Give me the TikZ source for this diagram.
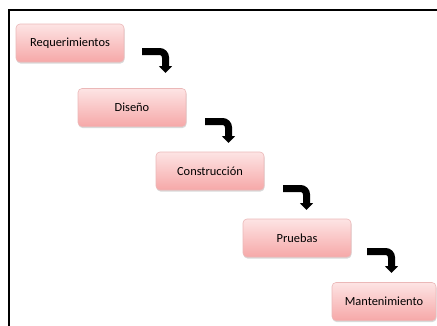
\documentclass[tikz,border=0pt]{standalone}
\usepackage{fontspec}
\setmainfont{Carlito}
\usetikzlibrary{arrows.meta,shadows}
\definecolor{boxtop}{HTML}{FDE4E4}
\definecolor{boxbot}{HTML}{F6A8A8}
\definecolor{boxline}{HTML}{EBB8B8}
\tikzset{
  stage/.style={draw=boxline, line width=0.6pt, rounded corners=4pt,
    top color=boxtop, bottom color=boxbot, minimum width=108pt, minimum height=38pt,
    inner sep=0pt, font=\fontsize{12.4pt}{14pt}\selectfont,
    drop shadow={shadow xshift=0.5pt, shadow yshift=-1.5pt, opacity=0.25, fill=black!60}},
  turn/.style={line width=7pt, rounded corners=6pt, line cap=butt,
    -{Triangle[width=13pt,length=7pt]}}
}
\begin{document}
\begin{tikzpicture}[x=1pt,y=-1pt]
\useasboundingbox (0,0) rectangle (437,325);
\draw[line width=2pt] (9,326) -- (9,10) -- (438,10);
\node[stage] (r) at (70,43) {Requerimientos};
\node[stage] (d) at (132,107.5) {Diseño};
\node[stage] (c) at (210,171) {Construcción};
\node[stage] (p) at (297,238) {Pruebas};
\node[stage, minimum width=104pt] (m) at (384,301.5) {Mantenimiento};
\coordinate (a1s) at (142,51.5); \coordinate (a1e) at (165.5,73);
\coordinate (a2s) at (205,121.5); \coordinate (a2e) at (228.5,143);
\coordinate (a3s) at (283,188.5); \coordinate (a3e) at (306.5,210);
\coordinate (a4s) at (367,251.5); \coordinate (a4e) at (391.5,273);
\draw[turn] (a1s) -| (a1e);
\draw[turn] (a2s) -| (a2e);
\draw[turn] (a3s) -| (a3e);
\draw[turn] (a4s) -| (a4e);
\end{tikzpicture}
\end{document}
